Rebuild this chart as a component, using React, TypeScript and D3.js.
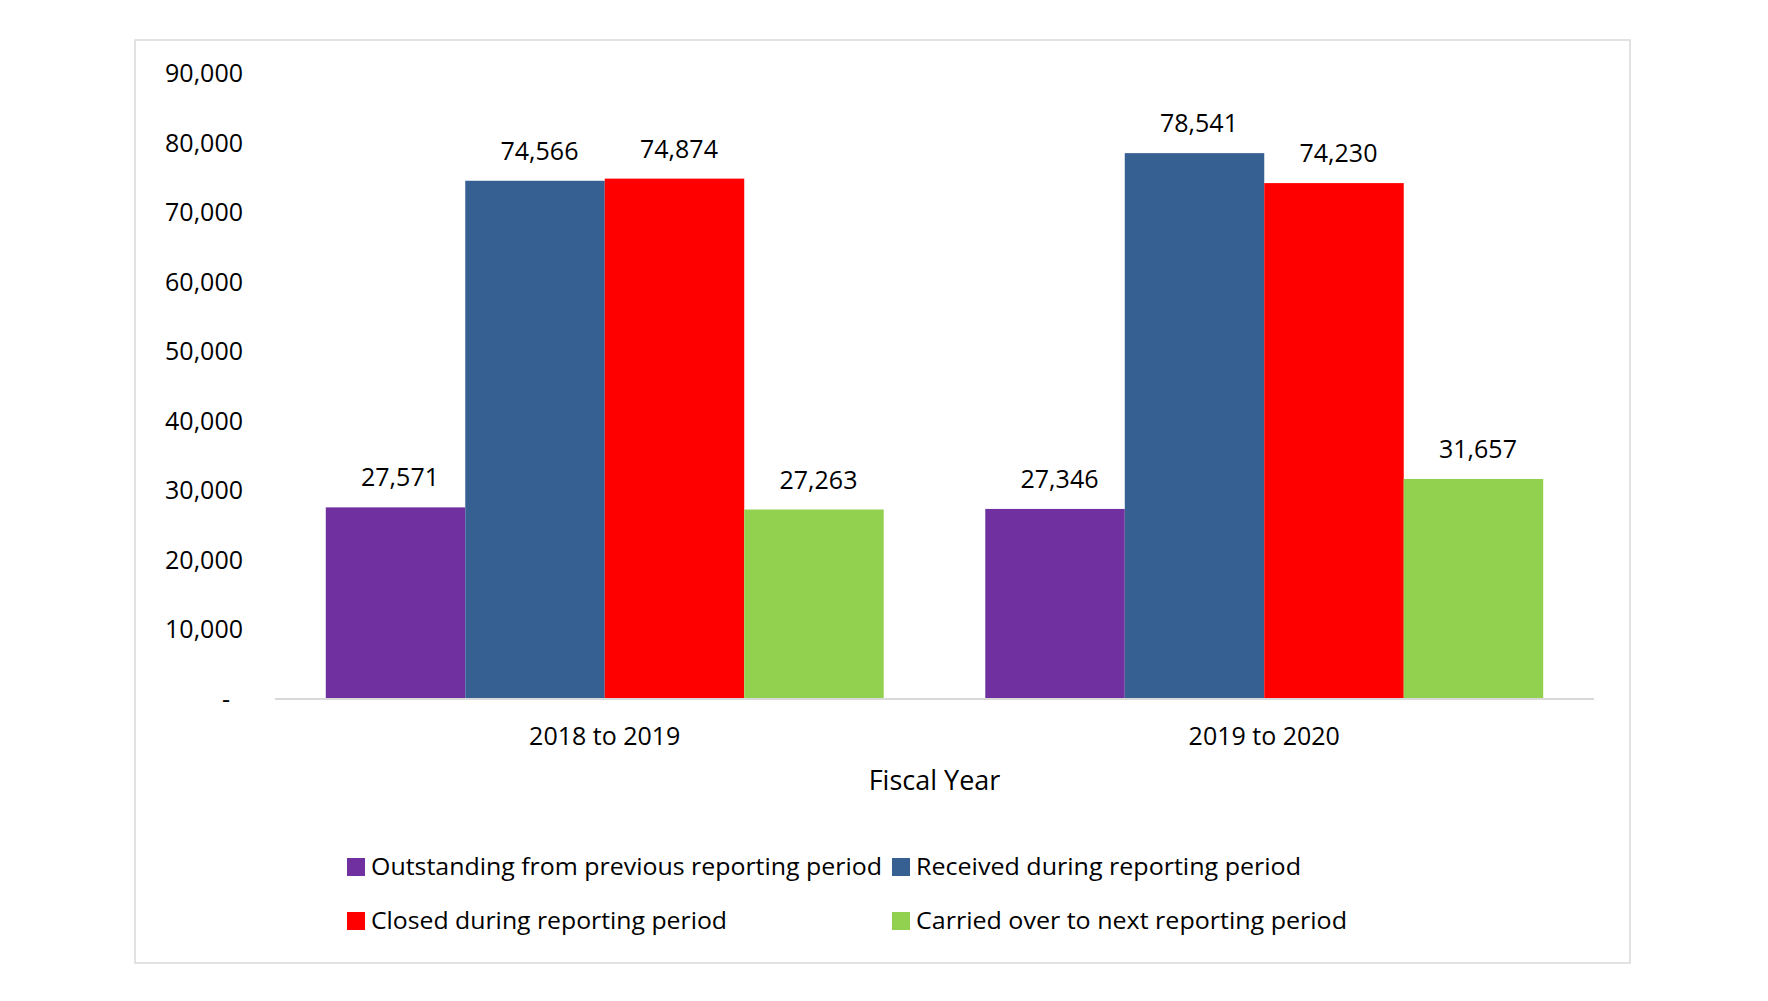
import React from "react";
import * as d3 from "d3";

const categories = ["2018 to 2019", "2019 to 2020"];
const seriesNames = [
  "Outstanding from previous reporting period",
  "Received during reporting period",
  "Closed during reporting period",
  "Carried over to next reporting period",
];
const seriesColors = ["#7030A0", "#376092", "#FF0000", "#92D050"];
const outstanding = [27571, 27346];
const received = [74566, 78541];
const closed = [74874, 74230];
const carried = [27263, 31657];
const seriesValues = [outstanding, received, closed, carried];
const yTicks = [0, 10000, 20000, 30000, 40000, 50000, 60000, 70000, 80000, 90000];
const xTitle = "Fiscal Year";

const W = 1768;
const H = 1001;
const FONT = "'Open Sans', 'Noto Sans', sans-serif";

export default function App() {
  const plotLeft = 275;
  const plotRight = 1594;
  const y = d3.scaleLinear().domain([0, 90000]).range([699, 73.5]);
  const x0 = d3
    .scaleBand<string>()
    .domain(categories)
    .range([plotLeft, plotRight])
    .paddingInner(0.154)
    .paddingOuter(0.077);
  const x1 = d3
    .scaleBand<number>()
    .domain(d3.range(seriesNames.length))
    .range([0, x0.bandwidth()])
    .padding(0);
  const fmt = d3.format(",");

  const legendItems = [
    { i: 0, x: 347, y: 867, w: 511 },
    { i: 1, x: 892, y: 867, w: 385 },
    { i: 2, x: 347, y: 921, w: 356 },
    { i: 3, x: 892, y: 921, w: 431 },
  ];

  return (
    <svg
      width={W}
      height={H}
      style={{ position: "absolute", left: 0, top: 0, background: "#fff" }}
      fontFamily={FONT}
    >
      <rect x={0} y={0} width={W} height={H} fill="#fff" />
      <rect x={135} y={40} width={1495} height={923} fill="#fff" stroke="#D9D9D9" strokeWidth={1.5} />

      {/* y tick labels */}
      {yTicks.map((t) => (
        <text
          key={t}
          x={t === 0 ? 230 : 243}
          y={y(t)}
          dy="0.35em"
          textAnchor="end"
          fontSize={25}
          fill="#000"
        >
          {t === 0 ? "-" : fmt(t)}
        </text>
      ))}

      {/* bars */}
      {categories.map((c, ci) => (
        <g key={c} transform={`translate(${x0(c)},0)`}>
          {seriesValues.map((vals, si) => (
            <rect
              key={si}
              x={x1(si)}
              y={y(vals[ci])}
              width={x1.bandwidth()}
              height={y(0) - y(vals[ci])}
              fill={seriesColors[si]}
            />
          ))}
          {seriesValues.map((vals, si) => (
            <text
              key={"l" + si}
              x={(x1(si) as number) + x1.bandwidth() / 2 + 4.5}
              y={y(vals[ci]) - 21}
              textAnchor="middle"
              fontSize={25}
              fill="#000"
            >
              {fmt(vals[ci])}
            </text>
          ))}
        </g>
      ))}

      {/* x axis line */}
      <line x1={plotLeft} x2={plotRight} y1={y(0)} y2={y(0)} stroke="#D9D9D9" strokeWidth={2} />

      {/* category labels */}
      {categories.map((c) => (
        <text
          key={c}
          x={(x0(c) as number) + x0.bandwidth() / 2}
          y={736}
          dy="0.35em"
          textAnchor="middle"
          fontSize={25}
          fill="#000"
        >
          {c}
        </text>
      ))}

      <text x={(plotLeft + plotRight) / 2} y={781} dy="0.35em" textAnchor="middle" fontSize={27} fill="#000">
        {xTitle}
      </text>

      {/* legend */}
      {legendItems.map((it) => (
        <g key={it.i}>
          <rect x={it.x} y={it.y - 9} width={18} height={18} fill={seriesColors[it.i]} />
          <text
            x={it.x + 24}
            y={it.y}
            dy="0.35em"
            fontSize={24}
            fill="#000"
            textLength={it.w}
            lengthAdjust="spacingAndGlyphs"
          >
            {seriesNames[it.i]}
          </text>
        </g>
      ))}
    </svg>
  );
}
